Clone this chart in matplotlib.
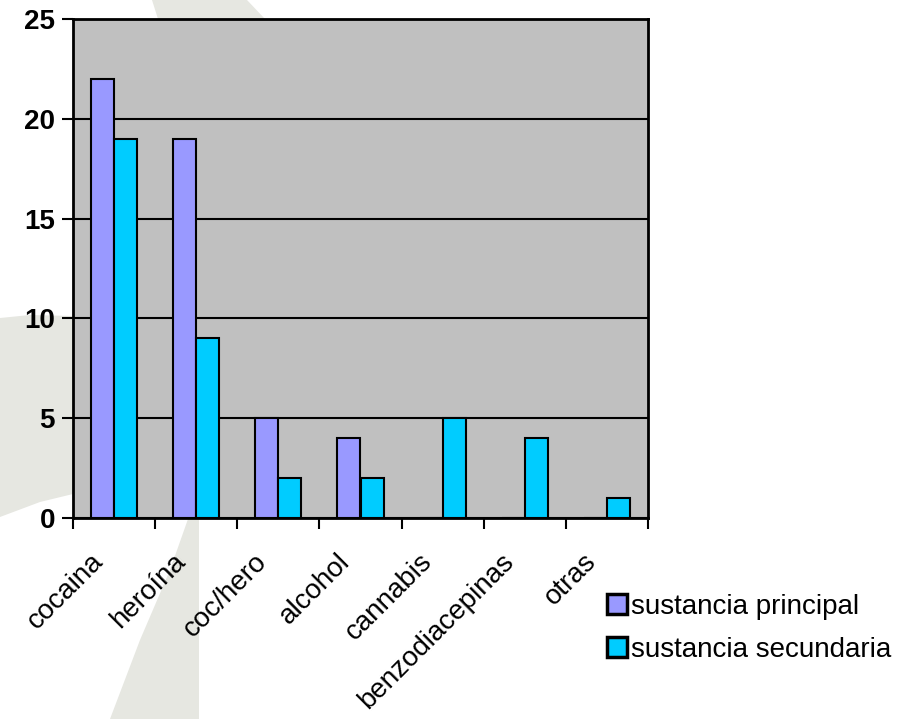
import numpy as np
import matplotlib
matplotlib.use("Agg")
import matplotlib.pyplot as plt
from matplotlib.patches import Polygon
from matplotlib.transforms import ScaledTranslation

plt.rcParams["font.family"] = ["Liberation Sans", "DejaVu Sans"]

# ---------------------------------------------------------------------------
# Data
# ---------------------------------------------------------------------------
categories = ["cocaina", "heroína", "coc/hero", "alcohol", "cannabis",
              "benzodiacepinas", "otras"]
principal = [22, 19, 5, 4, 0, 0, 0]
secundaria = [19, 9, 2, 2, 5, 4, 1]
series_names = ["sustancia principal", "sustancia secundaria"]

COL_PRINCIPAL = "#9999FF"
COL_SECUNDARIA = "#00CCFF"
COL_PLOT_BG = "#C0C0C0"
COL_WATERMARK = "#E6E7E1"

W, H = 917, 719
fig = plt.figure(figsize=(W / 100, H / 100), dpi=100)

# faint background watermark, drawn in a full-figure axes behind everything
bg = fig.add_axes([0, 0, 1, 1], zorder=-1)
bg.set_xlim(0, W)
bg.set_ylim(H, 0)
bg.axis("off")
wm_shapes = [
    [(0, 318), (30, 315), (73, 316), (73, 494), (40, 502), (0, 517)],
    [(188, 519), (199, 519), (199, 719), (110, 719), (140, 640), (170, 570)],
    [(152, 0), (247, 0), (265, 19), (158, 19)],
]
for pts in wm_shapes:
    bg.add_patch(Polygon(pts, closed=True, facecolor=COL_WATERMARK,
                         edgecolor="none"))

ax = fig.add_axes([73 / W, 1 - 518 / H, (648 - 73) / W, (518 - 19) / H])
ax.set_facecolor(COL_PLOT_BG)

x = np.arange(len(categories))
bw = 0.28
ax.bar(x - bw / 2, principal, bw, color=COL_PRINCIPAL, edgecolor="black",
       linewidth=1.5, label=series_names[0], zorder=3)
ax.bar(x + bw / 2, secundaria, bw, color=COL_SECUNDARIA, edgecolor="black",
       linewidth=1.5, label=series_names[1], zorder=3)

ax.set_xlim(-0.5, len(categories) - 0.5)
ax.set_ylim(0, 25)
ax.set_yticks([0, 5, 10, 15, 20, 25])
ax.yaxis.grid(True, color="black", linewidth=1.5, zorder=1)
ax.set_axisbelow(True)

for s in ax.spines.values():
    s.set_linewidth(2)
    s.set_color("black")

# ticks at category boundaries, labels at centres
ax.set_xticks(np.arange(len(categories) + 1) - 0.5)
ax.set_xticklabels([])
ax.set_xticks(x, minor=True)
ax.set_xticklabels(categories, minor=True, rotation=45, ha="right",
                   va="top", rotation_mode="anchor", fontsize=20)
ax.tick_params(axis="x", which="major", direction="out", length=8, width=1.5)
ax.tick_params(axis="x", which="minor", length=0, pad=22)
shift = ScaledTranslation(-24 / 100, 0, fig.dpi_scale_trans)
for lbl in ax.get_xticklabels(minor=True):
    lbl.set_transform(lbl.get_transform() + shift)

ax.tick_params(axis="y", direction="out", length=8, width=1.5, pad=5,
               labelsize=20)
for lbl in ax.get_yticklabels():
    lbl.set_fontweight("bold")

leg = fig.legend(loc="upper left", bbox_to_anchor=(607 / W, 1 - 594 / H),
                 frameon=False, fontsize=20, handlelength=0.72,
                 handleheight=0.72, handletextpad=0.15, labelspacing=0.6,
                 borderaxespad=0, borderpad=0)
for h in leg.legend_handles:
    h.set_linewidth(2.5)

fig.savefig("out.png", dpi=100)
